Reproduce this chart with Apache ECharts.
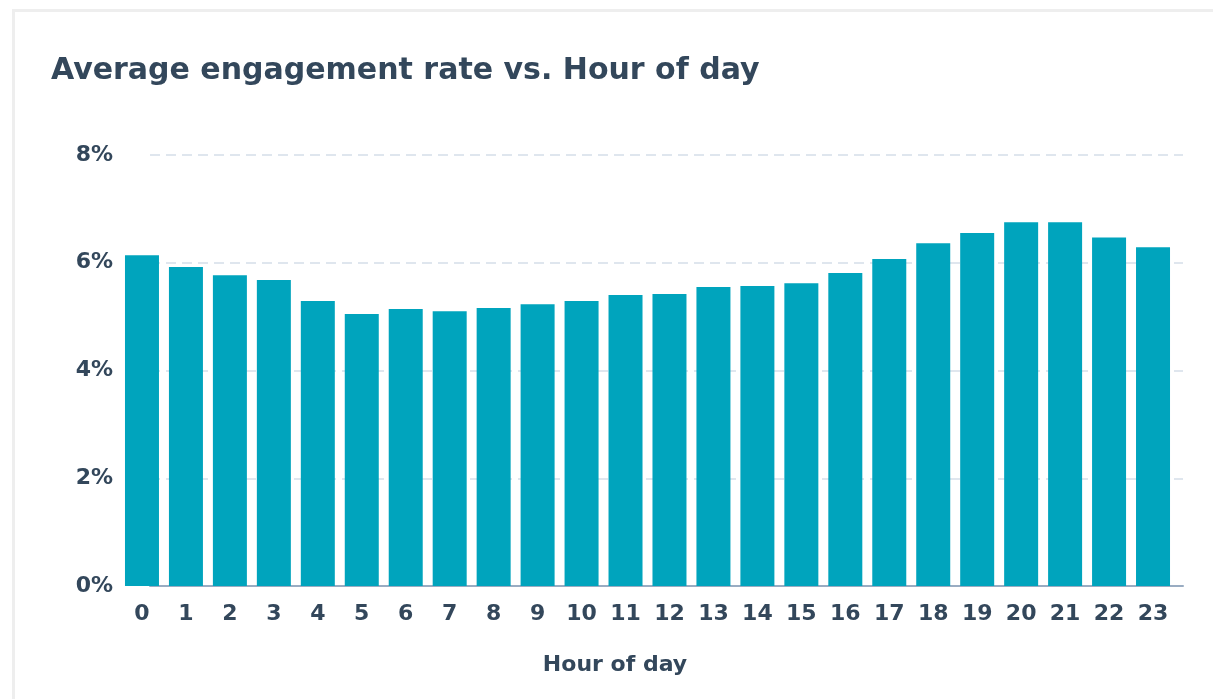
<!DOCTYPE html>
<html>
<head>
<meta charset="utf-8">
<script src="https://cdn.jsdelivr.net/npm/echarts@6/dist/echarts.min.js"></script>
<style>
html,body{margin:0;padding:0;background:#fff;}
#chart{width:1213px;height:699px;}
</style>
</head>
<body>
<div id="chart"></div>
<script>
const titleText = 'Average engagement rate vs. Hour of day';
const xAxisTitle = 'Hour of day';
const hours = ['0','1','2','3','4','5','6','7','8','9','10','11','12','13','14','15','16','17','18','19','20','21','22','23'];
const engagementRate = [6.14,5.92,5.77,5.68,5.29,5.05,5.14,5.10,5.16,5.23,5.29,5.40,5.42,5.55,5.57,5.62,5.81,6.07,6.36,6.55,6.75,6.75,6.47,6.29];
const yTicks = {min:0, max:8, interval:2};

const textColor = '#33475b';
const font = '"DejaVu Sans"';
const chart = echarts.init(document.getElementById('chart'), null, {renderer:'canvas'});
chart.setOption({
  backgroundColor:'#fff',
  animation:false,
  graphic:[
    {type:'rect', left:11, top:8, shape:{width:1220, height:720}, style:{fill:'none', stroke:'#eeeeee', lineWidth:3}, silent:true, z:-10},
    {type:'text', x:615, y:665, style:{text:xAxisTitle, fill:textColor, fontFamily:'DejaVu Sans', fontSize:22, fontWeight:'bold', textAlign:'center', textVerticalAlign:'middle'}}
  ],
  title:{text:titleText, left:46, top:51, textStyle:{color:textColor, fontFamily:font, fontSize:30, fontWeight:'bold'}},
  grid:[
    {left:150, right:30, top:155, bottom:113},
    {left:120, right:38, top:155, bottom:113}
  ],
  xAxis:[
    {gridIndex:0, type:'value', min:0, max:1, axisLine:{show:true, onZero:false, lineStyle:{color:'#99acc2', width:2}}, axisTick:{show:false}, axisLabel:{show:false}, splitLine:{show:false}},
    {gridIndex:1, type:'category', data:hours, axisLine:{show:false}, axisTick:{show:false},
      axisLabel:{color:textColor, fontFamily:font, fontSize:22, fontWeight:'bold', margin:17}}
  ],
  yAxis:[
    {gridIndex:0, type:'value', min:yTicks.min, max:yTicks.max, interval:yTicks.interval, axisLabel:{show:false}, axisLine:{show:false}, axisTick:{show:false},
      splitLine:{show:true, lineStyle:{color:'#dfe6ee', width:2, type:[10,6]}}},
    {gridIndex:1, type:'value', min:yTicks.min, max:yTicks.max, interval:yTicks.interval, axisLine:{show:false}, axisTick:{show:false}, splitLine:{show:false},
      axisLabel:{color:textColor, fontFamily:font, fontSize:22, fontWeight:'bold', margin:7, formatter:'{value}%'}}
  ],
  series:[{type:'bar', xAxisIndex:1, yAxisIndex:1, data:engagementRate, barWidth:34, itemStyle:{color:'#00a4bd'}, z:3}]
});
</script>
</body>
</html>
